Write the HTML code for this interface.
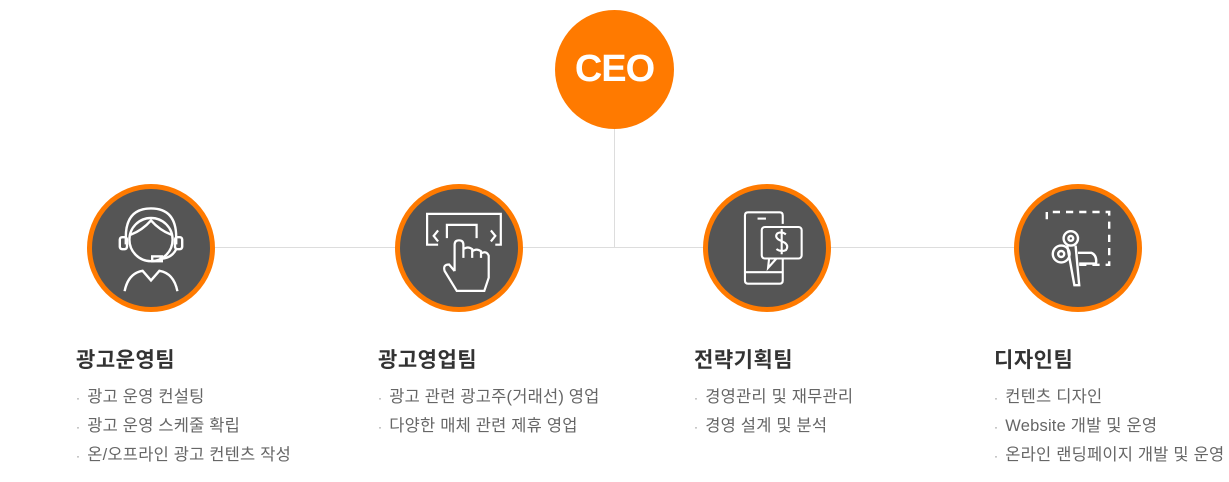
<!DOCTYPE html>
<html><head><meta charset="utf-8"><style>
body{margin:0;width:1229px;height:482px;background:#fff;position:relative;font-family:"Liberation Sans","Noto Sans CJK KR",sans-serif;overflow:hidden}
.c{position:absolute;border-radius:50%;box-sizing:border-box}
.t{position:absolute;border:5px solid #ff7a00;background:#555;width:128px;height:128px;border-radius:50%;box-sizing:border-box}
.t svg{position:absolute;left:0;top:0}
.h{position:absolute;font-size:21px;font-weight:bold;color:#333;top:344px;letter-spacing:0.5px}
.l{position:absolute;font-size:16.5px;color:#666;top:383px;line-height:28px;letter-spacing:0.2px;white-space:nowrap}
.l div:before{content:"·  ";font-size:12px;color:#888;white-space:pre}
</style></head><body>
<div style="position:absolute;left:614px;top:120px;width:1px;height:128px;background:#ddd"></div>
<div style="position:absolute;left:214px;top:247px;width:800px;height:1px;background:#ddd"></div>
<div class="c" style="left:555px;top:10px;width:119px;height:119px;background:#ff7a00;color:#fff;font-size:38px;font-weight:bold;text-align:center;line-height:119px;letter-spacing:-1px">CEO</div>

<div class="t" style="left:87px;top:184px"><svg width="118" height="118" viewBox="0 0 118 118" fill="none" stroke="#fff" stroke-width="2"><g transform="translate(59 59) scale(1.2) translate(-59 -59)">
<circle cx="59" cy="52" r="18"/><path d="M42 48 Q52 44 59 36 Q66 44 76 48"/><path d="M38 56 V50 Q38 26 59 26 Q80 26 80 50 V56"/><rect x="33" y="50" width="6" height="10" rx="2"/><rect x="79" y="50" width="6" height="10" rx="2"/><path d="M80 60 Q76 68 66 68"/><rect x="60" y="66" width="8" height="4"/><path d="M37 95 Q40 80 52 78 L59 86 L66 78 Q78 80 81 95"/></g></svg></div>
<div class="t" style="left:395px;top:184px"><svg width="118" height="118" viewBox="0 0 118 118" fill="none" stroke="#fff" stroke-width="2"><g transform="translate(59 59) scale(1.1) translate(-59 -61)">
<path d="M40 58 H30 V30 H97 V58 H92"/><path d="M40 45 L36 50 L40 55 M88 45 L92 50 L88 55"/><path d="M48 52 V40 H75 V52"/><path d="M55 82 V58 Q55 54 59 54 Q63 54 63 58 V70 V62 Q67 59 71 62 V70 V64 Q75 61 79 64 V70 V66 Q84 63 86 68 V88 L82 100 H57 L46 82 Q44 76 50 76 L55 82"/></g></svg></div>
<div class="t" style="left:703px;top:184px"><svg width="118" height="118" viewBox="0 0 118 118" fill="none" stroke="#fff" stroke-width="2"><g transform="translate(59 59) scale(1.05) translate(-63 -61)">
<path d="M78 38 V30 Q78 27 75 27 H45 Q42 27 42 30 V92 Q42 95 45 95 H75 Q78 95 78 92 V72"/><path d="M54 33 H62"/><path d="M42 84 H78"/><rect x="58" y="41" width="38" height="30" rx="3"/><path d="M65 71 L64 80 L72 71"/><path d="M81 48 Q77 45 73 47 Q70 50 74 53 L80 56 Q84 59 81 63 Q76 65 72 62 M77 43 V67"/></g></svg></div>
<div class="t" style="left:1014px;top:184px"><svg width="118" height="118" viewBox="0 0 118 118" fill="none" stroke="#fff" stroke-width="2"><g transform="translate(59 59) scale(1.2) translate(-61 -66)">
<path d="M35 42 V36 H87 V80 H60" stroke-dasharray="6 5"/><circle cx="47" cy="71" r="7"/><circle cx="47" cy="71" r="2.5"/><circle cx="55" cy="58" r="6"/><circle cx="55" cy="58" r="2"/><path d="M52 64 L58 97 H62 L59 64"/><path d="M61 70 H72 Q77 72 76 79 H62"/></g></svg></div>

<div class="h" style="left:76px">광고운영팀</div>
<div class="l" style="left:76px"><div>광고 운영 컨설팅</div><div>광고 운영 스케줄 확립</div><div>온/오프라인 광고 컨텐츠 작성</div></div>
<div class="h" style="left:378px">광고영업팀</div>
<div class="l" style="left:378px"><div>광고 관련 광고주(거래선) 영업</div><div>다양한 매체 관련 제휴 영업</div></div>
<div class="h" style="left:694px">전략기획팀</div>
<div class="l" style="left:694px"><div>경영관리 및 재무관리</div><div>경영 설계 및 분석</div></div>
<div class="h" style="left:994px">디자인팀</div>
<div class="l" style="left:994px"><div>컨텐츠 디자인</div><div>Website 개발 및 운영</div><div>온라인 랜딩페이지 개발 및 운영</div></div>
</body></html>
